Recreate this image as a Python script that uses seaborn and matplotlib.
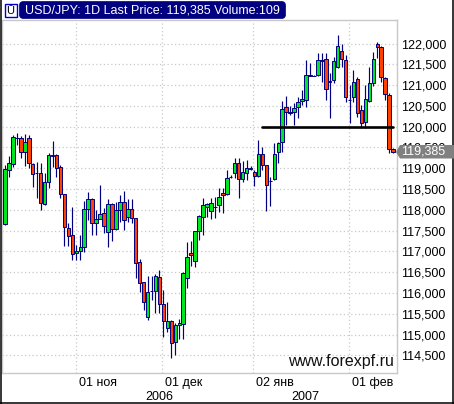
import pandas as pd
import matplotlib
matplotlib.use("Agg")
import matplotlib.pyplot as plt
import seaborn as sns
from matplotlib.lines import Line2D
from matplotlib.patches import FancyBboxPatch, Rectangle, Polygon
from matplotlib.ticker import FuncFormatter
from matplotlib.transforms import IdentityTransform, blended_transform_factory

opens = [117660, 118950, 119100, 119720, 119720, 119380, 119720, 119100, 118880, 118890,
         118130, 118680, 119300, 119310, 119020, 118380, 117560, 117390, 116960, 117000,
         117120, 118010, 118260, 117680, 117790, 117920, 117460, 118130, 117530, 117990,
         118200, 117820, 118010, 117800, 116740, 116260, 115420, 116040, 116060, 116390,
         115730, 115150, 115320, 114820, 115230, 115250, 116360, 116960, 116760, 117500,
         117820, 118060, 117980, 118060, 118110, 118400, 118380, 118780, 118880, 119130,
         118750, 118880, 118990, 118900, 118820, 119350, 119070, 118690, 118740, 119400,
         119630, 120480, 120360, 120350, 120470, 120610, 120640, 121230, 121220, 121240,
         121590, 121620, 121090, 121120, 121440, 121810, 121600, 120640, 120710, 121140,
         120390, 120110, 120610, 121040, 122000, 121910, 121160, 120760, 119460]
closes = [118980, 119120, 119745, 119730, 119400, 119640, 119120, 118860, 118890, 118160,
          118660, 119310, 119310, 119000, 118380, 117580, 117370, 116930, 117000, 117100,
          118010, 118260, 117680, 117770, 117890, 117610, 118130, 117530, 117990, 118200,
          117750, 118010, 117800, 116720, 116240, 115790, 116030, 116060, 116420, 115730,
          115340, 115340, 114790, 115230, 115290, 116480, 116860, 116910, 117490, 117850,
          118110, 118130, 118170, 118070, 118320, 118350, 118760, 118790, 119130, 118740,
          118900, 119010, 119000, 118810, 119340, 119070, 118590, 118700, 119340, 119600,
          120420, 120360, 120320, 120440, 120590, 120660, 121240, 121240, 121230, 121600,
          121600, 120910, 121080, 121570, 121930, 121620, 120710, 120650, 121070, 120320,
          120080, 120660, 121040, 121620, 121910, 121190, 120780, 119460, 119385]
highs = [119080, 119300, 119800, 119850, 119780, 119820, 119800, 119130, 119160, 119130,
         118890, 119370, 119660, 119340, 119080, 118380, 117680, 118070, 117160, 117400,
         118210, 118440, 118290, 118000, 118600, 118050, 118260, 118170, 118190, 118360,
         118450, 118260, 118260, 117810, 116820, 116270, 116410, 116410, 116460, 116560,
         116070, 115790, 115350, 115280, 115370, 116510, 117240, 117250, 117500, 117880,
         118290, 118170, 118290, 118320, 118530, 118530, 118960, 118840, 119250, 119250,
         119180, 119200, 119050, 118960, 119680, 119520, 119080, 118800, 119610, 119640,
         120620, 120740, 120500, 120570, 120720, 120880, 121600, 121530, 121240, 121770,
         121770, 121780, 121290, 121680, 122200, 121990, 121720, 121000, 121360, 121200,
         120520, 121000, 121440, 121800, 122040, 121940, 121190, 120820, 119480]
lows = [117640, 118800, 119030, 119560, 119250, 119060, 119010, 118560, 118290, 118000,
        118120, 118530, 119040, 118790, 118280, 117130, 117130, 116800, 116800, 116800,
        116990, 117760, 117400, 117400, 117780, 117440, 117120, 117260, 117520, 117710,
        117520, 117720, 117690, 116360, 116030, 115590, 115350, 115830, 115530, 115520,
        114950, 115070, 114450, 114510, 114890, 114890, 116130, 116650, 116630, 117280,
        117400, 117840, 117780, 117800, 117960, 117930, 118360, 118770, 118770, 118290,
        118670, 118720, 118960, 118570, 118800, 118960, 117980, 118100, 118720, 119130,
        119400, 120040, 120280, 120040, 120200, 120520, 120470, 121220, 121210, 121220,
        121080, 120640, 120200, 121050, 121420, 121440, 120600, 120100, 120600, 120230,
        119970, 119970, 120590, 120990, 121650, 121080, 120640, 119360, 119360]

price_ticks = [114500, 115000, 115500, 116000, 116500, 117000, 117500, 118000,
               118500, 119000, 119500, 120000, 120500, 121000, 121500, 122000]
date_pos = [18, 39.7, 62.7, 86.8]
date_labels = ["01 ноя", "01 дек", "02 янв", "01 фев"]
year_pos = [38.9, 75.8]
year_labels = ["2006", "2007"]
level_x = [65, 98]
level_y = [120000, 120000]
last_price = 119385

sns.set_theme(style="white")
plt.rcParams["font.family"] = ["Liberation Sans", "DejaVu Sans"]

W, H = 454, 404
NAVY = "#000080"
GRID = "#c8c8c8"

df = pd.DataFrame({"open": opens, "high": highs, "low": lows, "close": closes})
df["i"] = df.index
df["base"] = df[["open", "close"]].min(axis=1)
df["body"] = (df["close"] - df["open"]).abs()

fig = plt.figure(figsize=(W / 100, H / 100), dpi=100)
ax = fig.add_axes([2 / W, (H - 373) / H, 394.5 / W, 353 / H])

# wicks first, bodies over them
ax.vlines(df["i"], df["low"], df["high"], color=NAVY, lw=0.85, zorder=3)

for sub, col in [(df[df["close"] >= df["open"]], "#00e61e"), (df[df["close"] < df["open"]], "#ff4000")]:
    sns.barplot(data=sub, x="i", y="body", bottom=sub["base"], native_scale=True, color=col,
                saturation=1, width=0.88, edgecolor=NAVY, linewidth=0.7, errorbar=None,
                zorder=4, ax=ax)

sns.lineplot(x=level_x, y=level_y, color="black", lw=1.9, zorder=5, ax=ax)

ax.set_xlim(-0.76, 98.86)
ax.set_ylim(114079, 122565)
ax.set_xlabel("")
ax.set_ylabel("")
ax.set_xticks(date_pos)
ax.set_xticklabels([])
ax.set_yticks(price_ticks)
ax.yaxis.tick_right()
ax.yaxis.set_major_formatter(FuncFormatter(lambda v, p: f"{int(v):,}"))
ax.tick_params(axis="y", length=0, pad=3, labelsize=9, labelcolor="black")
ax.tick_params(axis="x", length=0)
ax.grid(True, color=GRID, ls=(0, (1, 2)), lw=0.9)
ax.set_axisbelow(True)
for s in ax.spines.values():
    s.set_color(GRID)
    s.set_linewidth(1)

# date and year labels under the plot
tr = blended_transform_factory(ax.transData, ax.transAxes)
for p, lab in zip(date_pos, date_labels):
    ax.text(p + 0.7, -10 / 353, lab, transform=tr, ha="left", va="center", fontsize=9, color="black")
for p, lab in zip(year_pos, year_labels):
    ax.text(p, -24 / 353, lab, transform=tr, ha="center", va="center", fontsize=9, color="black")

ax.text(0.993, 0.033, "www.forexpf.ru", transform=ax.transAxes, ha="right", va="center",
        fontsize=11.5, color="#111111", zorder=6)

# last price tag, in pixels
px = IdentityTransform()
fig.add_artist(Polygon([(396, H - 152), (400, H - 145), (454, H - 145), (454, H - 158.5), (400, H - 158.5)],
                       closed=True, fc="#808080", ec="none", transform=px, zorder=8))
fig.text(401 / W, (H - 152) / H, f"{last_price:,}", color="white", fontsize=9, ha="left", va="center", zorder=9)

# header pill and icon, in pixels
fig.add_artist(FancyBboxPatch((23, H - 15), 259, 10, boxstyle="round,pad=3.5,rounding_size=4",
                              fc=NAVY, ec=NAVY, lw=0.5, transform=px))
fig.text(25 / W, (H - 10.5) / H, "USD/JPY: 1D Last Price: 119,385 Volume:109", color="white",
         fontsize=9, ha="left", va="center")
fig.add_artist(Rectangle((4.5, H - 17), 12, 13, fc="white", ec="#0000cc", lw=1, transform=px))
fig.text(10.5 / W, (H - 10.5) / H, "\u016a", color="black", fontsize=8, ha="center", va="center")

# window border
for xs, ys in [((0.75, 0.75), (0, H)), ((0, W), (0.75, 0.75)), ((W - 0.75, W - 0.75), (0, H))]:
    fig.add_artist(Line2D(xs, ys, color="black", lw=1.1, transform=px))

fig.savefig("out.png", dpi=100)
